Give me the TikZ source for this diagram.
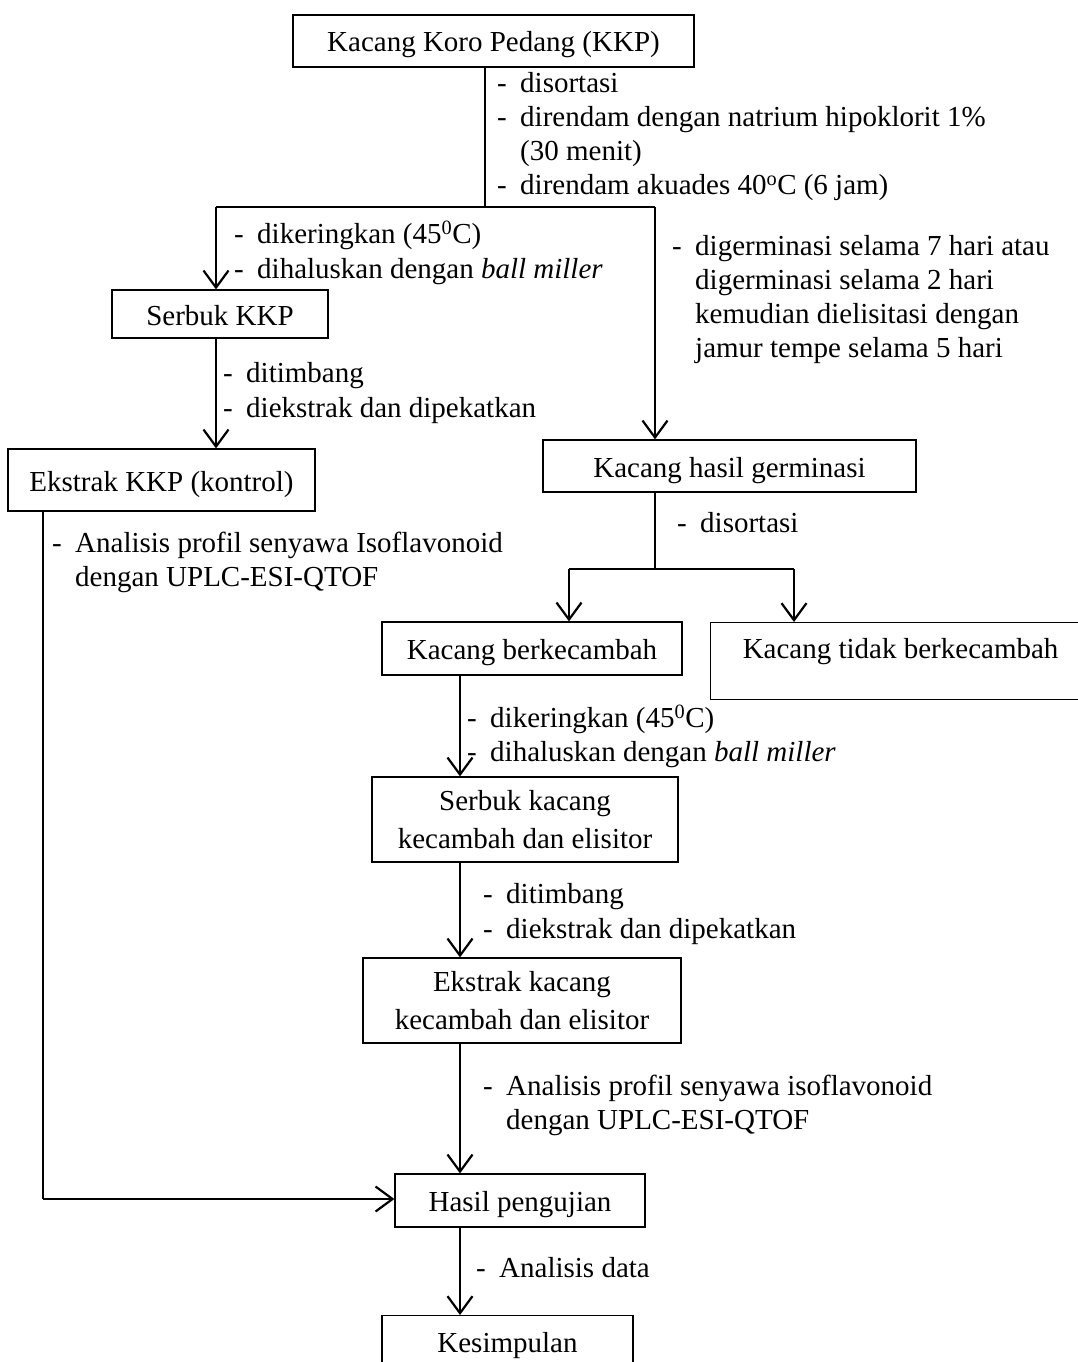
\documentclass[tikz,border=0pt]{standalone}
\usepackage{fontspec}
\setmainfont{Liberation Serif}
\usetikzlibrary{arrows.meta}
\tikzset{
  box/.style={draw,line width=1.2pt,inner sep=0pt,align=center,font=\fontsize{29}{38}\selectfont},
  onebox/.style={box,text height=22pt,text depth=0pt},
  note/.style={anchor=north west,inner sep=0pt,align=left,font=\fontsize{29}{34}\selectfont},
  link/.style={draw,line width=2.2pt},
  thinlink/.style={draw,line width=1.3pt},
  arr/.style={link,-{Straight Barb[length=17pt,width=25pt]}}
}
\newcommand{\dashitem}{\makebox[23pt][l]{-}}
\newcommand{\contline}{\hspace*{23pt}}

\begin{document}
\begin{tikzpicture}[x=1pt,y=-1pt]
\useasboundingbox (0,0) rectangle (1078,1362);
\clip (0,0) rectangle (1078,1362);

% boxes
\node[onebox,minimum width=401,minimum height=52] (kkp) at (493.5,41) {Kacang Koro Pedang (KKP)};
\node[onebox,minimum width=216,minimum height=48] (serbuk) at (220,314) {Serbuk KKP};
\node[onebox,minimum width=307,minimum height=62] (ekstrakkkp) at (161.5,480) {Ekstrak KKP (kontrol)};
\node[onebox,minimum width=373,minimum height=52] (germ) at (729.5,466) {Kacang hasil germinasi};
\node[onebox,minimum width=300,minimum height=53] (berkec) at (532,648.5) {Kacang berkecambah};
\node[box,anchor=north west,minimum width=380,minimum height=77,text height=19pt,text depth=25pt] (tidak) at (710,622) {Kacang tidak berkecambah};
\node[box,minimum width=306,minimum height=85] (serbukkec) at (525,819.5) {Serbuk kacang\\kecambah dan elisitor};
\node[box,minimum width=318,minimum height=85] (ekstrakkec) at (522,1000.5) {Ekstrak kacang\\kecambah dan elisitor};
\node[onebox,minimum width=250,minimum height=53] (hasil) at (520,1200.5) {Hasil pengujian};
\node[box,anchor=north,minimum width=251,minimum height=60] (simpul) at (507.5,1315) {Kesimpulan};

% junctions
\coordinate (j1) at (485,207);
\coordinate (j1l) at (216,207);
\coordinate (j1r) at (655,207);
\coordinate (j2) at (655,569);
\coordinate (j2l) at (569,569);
\coordinate (j2r) at (794,569);
\coordinate (spine) at (460,0);
\coordinate (ctrl) at (43,1199);

% connectors
\draw[link] (kkp.south -| j1) -- (j1);
\draw[link] (j1l) -- (j1r);
\draw[arr] (j1l) -- (j1l |- serbuk.north);
\draw[arr] (j1r) -- (j1r |- germ.north);
\draw[arr] (serbuk.south -| j1l) -- (j1l |- ekstrakkkp.north);
\draw[thinlink] (ekstrakkkp.south -| ctrl) -- (ctrl);
\draw[arr] (ctrl) -- (ctrl -| hasil.west);
\draw[link] (germ.south -| j2) -- (j2);
\draw[link] (j2l) -- (j2r);
\draw[arr] (j2l) -- (j2l |- berkec.north);
\draw[arr] (j2r) -- (j2r |- tidak.north);
\draw[arr] (berkec.south -| spine) -- (serbukkec.north -| spine);
\draw[arr] (serbukkec.south -| spine) -- (ekstrakkec.north -| spine);
\draw[arr] (ekstrakkec.south -| spine) -- (hasil.north -| spine);
\draw[arr] (hasil.south -| spine) -- (simpul.north -| spine);

% notes
\node[note] (n1) at (497,72) {\dashitem disortasi\\\dashitem direndam dengan natrium hipoklorit 1\%\\\contline(30 menit)\\\dashitem direndam akuades 40\textsuperscript{o}C (6 jam)};
\node[note,font=\fontsize{29}{35}\selectfont] (n2) at (234,221) {\dashitem dikeringkan (45\textsuperscript{0}C)\\\dashitem dihaluskan dengan \textit{ball miller}};
\node[note] (n3) at (672,235) {\dashitem digerminasi selama 7 hari atau\\\contline digerminasi selama 2 hari\\\contline kemudian dielisitasi dengan\\\contline jamur tempe selama 5 hari};
\node[note,font=\fontsize{29}{35}\selectfont] (n4) at (223,362) {\dashitem ditimbang\\\dashitem diekstrak dan dipekatkan};
\node[note] (n5) at (52,532) {\dashitem Analisis profil senyawa Isoflavonoid\\\contline dengan UPLC-ESI-QTOF};
\node[note] (n6) at (677,512) {\dashitem disortasi};
\node[note] (n7) at (467,705) {\dashitem dikeringkan (45\textsuperscript{0}C)\\\dashitem dihaluskan dengan \textit{ball miller}};
\node[note,font=\fontsize{29}{35}\selectfont] (n8) at (483,883) {\dashitem ditimbang\\\dashitem diekstrak dan dipekatkan};
\node[note] (n9) at (483,1075) {\dashitem Analisis profil senyawa isoflavonoid\\\contline dengan UPLC-ESI-QTOF};
\node[note] (n10) at (476,1257) {\dashitem Analisis data};
\end{tikzpicture}
\end{document}
